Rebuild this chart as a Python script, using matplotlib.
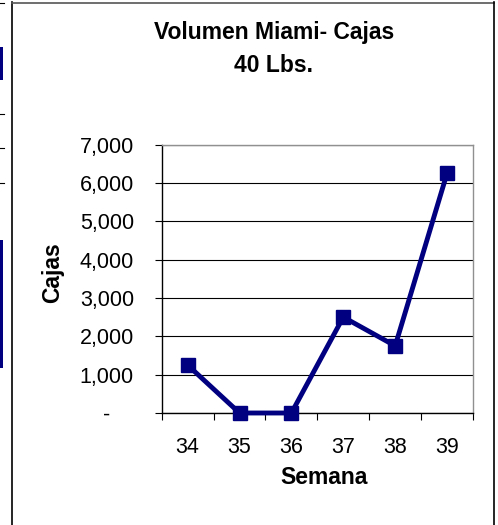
import matplotlib
matplotlib.use("Agg")
import matplotlib.pyplot as plt
from matplotlib.patches import Rectangle
from matplotlib.lines import Line2D
from matplotlib.ticker import FuncFormatter, FixedLocator

plt.rcParams['font.family'] = ['Liberation Sans', 'DejaVu Sans']

weeks = ["34", "35", "36", "37", "38", "39"]
cajas = [1250, 0, 0, 2500, 1750, 6250]

W, H = 498, 525
fig = plt.figure(figsize=(W / 100, H / 100), dpi=100)

def px(x, y):
    # pixel coords (from top-left) -> figure fraction
    return x / W, 1 - y / H

# outer chart frame
fig.add_artist(Line2D([12 / W, 12 / W], [0, 1 - 2 / H], color="black", lw=1.2))
fig.add_artist(Line2D([12 / W, 494 / W], [1 - 2.5 / H, 1 - 2.5 / H], color="#555555", lw=1.2))
fig.add_artist(Line2D([494 / W, 494 / W], [0, 1 - 2 / H], color="black", lw=1.2))

# bits of the neighbouring chart on the left edge
for y0, y1 in [(47, 80), (240, 368)]:
    fig.add_artist(Rectangle(px(0, y1), 3 / W, (y1 - y0) / H, color="#000080", lw=0))
for yy in [3, 114, 148, 183]:
    fig.add_artist(Line2D([0, 4 / W], [1 - yy / H] * 2, color="black", lw=0.8))

left, right, top, bottom = 161.7, 473, 144.5, 413
ax = fig.add_axes([left / W, 1 - bottom / H, (right - left) / W, (bottom - top) / H])

x = list(range(len(weeks)))
ax.plot(x, cajas, color="#000080", lw=3.5, marker="s", markersize=9.5,
        clip_on=False, zorder=5)

ax.set_xlim(-0.5, len(weeks) - 0.5)
ax.set_ylim(0, 7000)
ax.set_yticks(range(0, 7001, 1000))
# accounting style: zero shown as a dash, set in from the right
ax.yaxis.set_major_formatter(FuncFormatter(lambda v, p: "-    " if v == 0 else f"{int(v):,}"))
ax.grid(axis="y", color="black", lw=0.8)

ax.xaxis.set_major_locator(FixedLocator([i - 0.5 for i in range(len(weeks) + 1)]))
ax.xaxis.set_major_formatter(FuncFormatter(lambda v, p: ""))
ax.xaxis.set_minor_locator(FixedLocator(x))
ax.set_xticklabels(weeks, minor=True)
ax.tick_params(axis="x", which="major", length=5, width=0.8, direction="out")
ax.tick_params(axis="x", which="minor", length=0, pad=17, labelsize=15.5)
ax.tick_params(axis="y", length=5, width=0.8, direction="out", pad=15, labelsize=15.5)

for s in ["left", "bottom"]:
    ax.spines[s].set_color("black")
    ax.spines[s].set_linewidth(1)
for s in ["top", "right"]:
    ax.spines[s].set_color("#909090")
    ax.spines[s].set_linewidth(1)

fig.text(*px(274, 33), "Volumen Miami- Cajas", ha="center", va="center",
         fontsize=16.5, fontweight="bold")
fig.text(*px(274, 65), "40 Lbs.", ha="center", va="center",
         fontsize=16.5, fontweight="bold")
fig.text(*px(324, 478), "Semana", ha="center", va="center",
         fontsize=16.5, fontweight="bold")
fig.text(*px(53, 273), "Cajas", ha="center", va="center", rotation=90,
         fontsize=16.5, fontweight="bold")

fig.savefig("out.png", dpi=100)
